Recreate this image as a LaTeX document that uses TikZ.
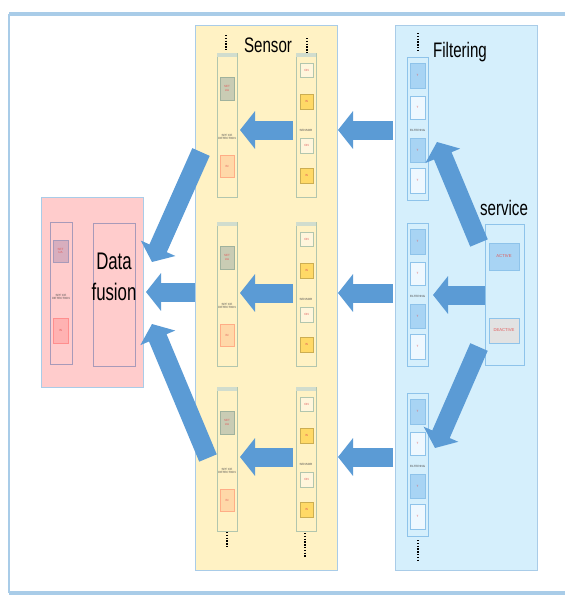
\documentclass[tikz,border=0pt]{standalone}
\usepackage{fontspec}
\setmainfont{Liberation Sans}
\usetikzlibrary{arrows.meta}
\definecolor{framec}{HTML}{A9CCE8}
\definecolor{yelc}{HTML}{FFF2C4}
\definecolor{cyanc}{HTML}{D5EFFC}
\definecolor{pinkc}{HTML}{FFCCCC}
\definecolor{arrc}{HTML}{5B9BD5}
\definecolor{scolc}{HTML}{B2C6AE}
\definecolor{fcolc}{HTML}{8EC3EA}
\definecolor{pcolc}{HTML}{A89AB9}
\definecolor{grgc}{HTML}{C9CCB4}
\definecolor{orc}{HTML}{FFD8A8}
\definecolor{creamc}{HTML}{FFF6DC}
\definecolor{goldc}{HTML}{FFD966}
\definecolor{lbluec}{HTML}{A8D4F4}
\definecolor{wbluec}{HTML}{EEF8FF}
\definecolor{greyc}{HTML}{E2E2E2}
\definecolor{redtc}{HTML}{E05A5A}
\definecolor{pgc}{HTML}{D8AEBE}
\definecolor{pbc}{HTML}{FFB2B2}
\newcommand\mybox[6]{\node[bx,#6,minimum width={((#4)-(#2))*1pt},minimum height={((#5)-(#3))*1pt}] (#1) at ({((#2)+(#4))/2},{((#3)+(#5))/2}) {};}
\newcommand\bigtxt[2][21]{\fontsize{#1}{#1}\selectfont\scalebox{0.72}[1]{#2}}
\begin{document}
\begin{tikzpicture}[x=1pt,y=-1pt,
  bx/.style={draw,rectangle,inner sep=0pt,outer sep=0pt,line width=0.8pt},
  panel/.style={line width=1pt},
  bigarrow/.style={line width=19pt,draw=arrc,-{Triangle[length=15pt,width=37pt]}},
  tiny/.style={font=\fontsize{3}{3.4}\selectfont,inner sep=0pt,align=center},
  vdots/.style={line width=1.3pt,dash pattern=on 1.4pt off 1.4pt},
  lbl/.style={inner sep=0pt,text=black}]
\useasboundingbox (0,0) rectangle (565,595);
\fill[white] (0,0) rectangle (565,595);
% outer frame
\draw[framec,line width=4pt] (9,14) -- (567,14);
\draw[framec,line width=4pt] (9,593) -- (567,593);
\draw[framec,line width=2pt] (9,14) -- (9,593);
% panels
\mybox{pfus}{41}{197}{143}{387}{panel,draw=framec,fill=pinkc}
\mybox{psen}{195}{25}{337}{570}{panel,draw=framec,fill=yelc}
\mybox{pfil}{395}{25}{537}{570}{panel,draw=framec,fill=cyanc}
% data fusion internals
\mybox{dcol}{50}{222}{72}{364}{draw=pcolc}
\mybox{dfus}{93}{223}{135}{366}{draw=pcolc}
\mybox{dtop}{53}{240}{68}{262}{draw=pcolc,fill=pgc}
\mybox{dbot}{53}{318}{68}{343}{draw=pbc!80!red,fill=pbc}
\node[tiny,text=redtc] (dtopt) at (dtop) {SET\\UA};
\node[tiny,text=redtc] (dbott) at (dbot) {IN};
\node[tiny,text=black!70] (dmid) at (61,297) {SPF CE\\DETECTION};
\node[lbl,align=center,font=\fontsize{24}{31}\selectfont] (dft) at (114,277) {\scalebox{0.7}[1]{Data}\\\scalebox{0.7}[1]{fusion}};
% sensor columns
\foreach \r/\t in {1/53,2/222,3/387}{
  \mybox{sl\r}{217}{\t}{237}{\t+144}{draw=scolc,fill=yelc}
  \fill[scolc!60] (sl\r.north west) rectangle ++(20,4);
  \mybox{slt\r}{220}{\t+24}{234}{\t+47}{draw=scolc!90!black,fill=grgc}
  \mybox{slb\r}{220}{\t+102}{234}{\t+124}{draw=orc!80!red,fill=orc}
  \node[tiny,text=redtc] (sltt\r) at (slt\r) {SET\\UA};
  \node[tiny,text=redtc] (slbt\r) at (slb\r) {IN};
  \node[tiny,text=black!70] (slm\r) at (227,\t+84) {SPF CE\\DETECTION};
  \mybox{sr\r}{296}{\t}{316}{\t+144}{draw=scolc,fill=yelc}
  \fill[scolc!60] (sr\r.north west) rectangle ++(20,4);
  \mybox{sra\r}{300}{\t+10}{313}{\t+24}{draw=scolc,fill=creamc}
  \mybox{srb\r}{300}{\t+41}{313}{\t+56}{draw=goldc!80!black,fill=goldc}
  \mybox{src\r}{300}{\t+85}{313}{\t+100}{draw=scolc,fill=creamc}
  \mybox{srd\r}{300}{\t+115}{313}{\t+130}{draw=goldc!80!black,fill=goldc}
  \node[tiny,text=redtc] (srat\r) at (sra\r) {ON};
  \node[tiny,text=redtc] (srbt\r) at (srb\r) {IN};
  \node[tiny,text=redtc] (srct\r) at (src\r) {ON};
  \node[tiny,text=redtc] (srdt\r) at (srd\r) {IN};
  \node[tiny,text=black!70] (srm\r) at (306,\t+77) {SENSOR};
}
% filtering columns
\foreach \r/\t in {1/57,2/223,3/393}{
  \mybox{fc\r}{407}{\t}{428}{\t+143}{draw=fcolc,fill=cyanc}
  \mybox{fa\r}{410}{\t+6}{425}{\t+31}{draw=fcolc,fill=lbluec}
  \mybox{fb\r}{410}{\t+39}{425}{\t+62}{draw=fcolc,fill=wbluec}
  \mybox{fcc\r}{410}{\t+81}{425}{\t+105}{draw=fcolc,fill=lbluec}
  \mybox{fd\r}{410}{\t+111}{425}{\t+136}{draw=fcolc,fill=wbluec}
  \node[tiny,text=redtc] (fat\r) at (fa\r) {T};
  \node[tiny,text=redtc] (fbt\r) at (fb\r) {T};
  \node[tiny,text=redtc] (fct\r) at (fcc\r) {T};
  \node[tiny,text=redtc] (fdt\r) at (fd\r) {T};
  \node[tiny,text=black!70] (fm\r) at (417.5,\t+73) {FILTERING};
}
% service
\mybox{svc}{485}{224}{524}{365}{draw=fcolc,fill=cyanc}
\mybox{act}{489}{243}{519}{270}{draw=fcolc,fill=lbluec}
\mybox{deact}{489}{318}{519}{343}{draw=fcolc,fill=greyc}
\node[tiny,text=redtc,font=\fontsize{4.2}{5}\selectfont] (actt) at (act) {ACTIVE};
\node[tiny,text=redtc,font=\fontsize{4.2}{5}\selectfont] (deactt) at (deact) {DEACTIVE};
% labels
\node[lbl] (lsen) at (268,45) {\bigtxt{Sensor}};
\node[lbl] (lfil) at (460,52) {\bigtxt{Filtering}};
\node[lbl] (lsvc) at (504,208) {\bigtxt{service}};
% dots
\draw[vdots] (226,35) -- (226,50);
\draw[vdots] (307,38) -- (307,53);
\draw[vdots] (418,33) -- (418,52);
\draw[vdots] (227,532) -- (227,548);
\draw[vdots] (305,533) -- (305,557);
\draw[vdots] (418,540) -- (418,560);
% arrow coordinates
\foreach \r/\y in {1/130,2/293,3/457}{
  \coordinate (fs\r) at (393,\y);
  \coordinate (ft\r) at (338,\y);
  \coordinate (ss\r) at (293,\y);
  \coordinate (st\r) at (240,\y);
  \draw[bigarrow] (fs\r) -- (ft\r);
  \draw[bigarrow] (ss\r) -- (st\r);
}
\coordinate (d1s) at (201,152); \coordinate (d1t) at (152,262);
\coordinate (d2s) at (195,292); \coordinate (d2t) at (146,292);
\coordinate (d3s) at (208,458); \coordinate (d3t) at (152,324);
\draw[bigarrow] (d1s) -- (d1t);
\draw[bigarrow] (d2s) -- (d2t);
\draw[bigarrow] (d3s) -- (d3t);
\coordinate (v1s) at (479,243); \coordinate (v1t) at (437,142);
\coordinate (v2s) at (485,295); \coordinate (v2t) at (433,295);
\coordinate (v3s) at (479,347); \coordinate (v3t) at (435,448);
\draw[bigarrow] (v1s) -- (v1t);
\draw[bigarrow] (v2s) -- (v2t);
\draw[bigarrow] (v3s) -- (v3t);
\end{tikzpicture}
\end{document}
